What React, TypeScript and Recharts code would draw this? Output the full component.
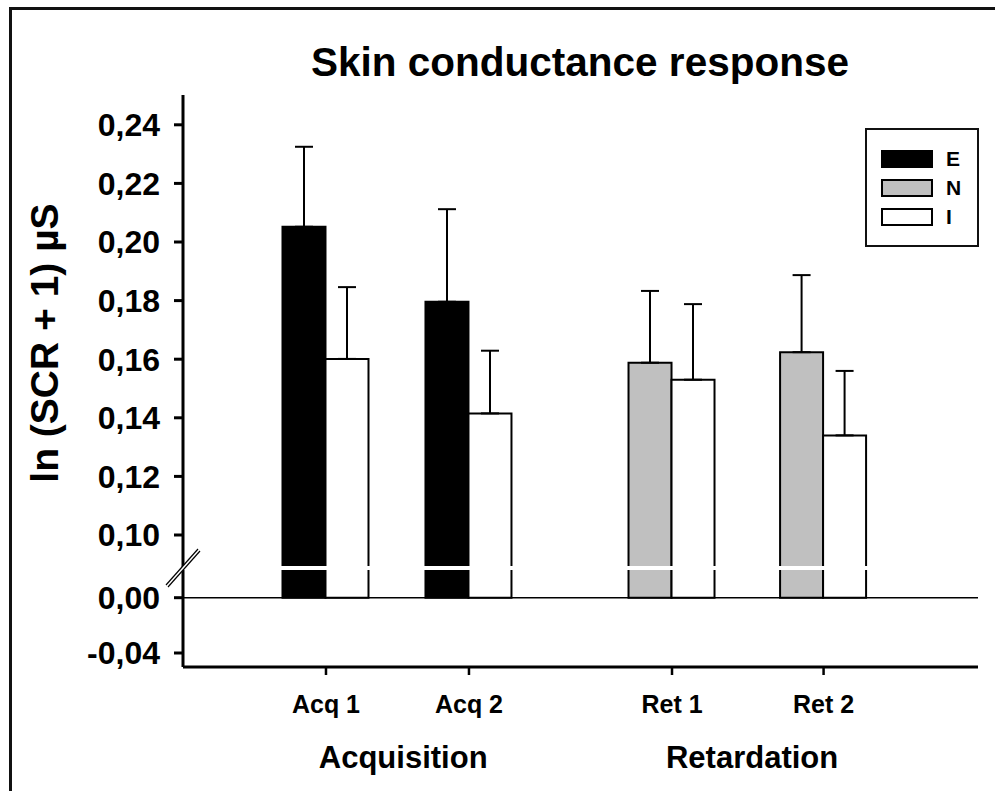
import { ComposedChart, Bar, XAxis, YAxis, ErrorBar, Cell, ReferenceLine, ReferenceDot } from 'recharts';

// categories and groups
const categories = ['Acq 1', 'Acq 2', 'Ret 1', 'Ret 2'];
const groupNames = ['Acquisition', 'Retardation'];

// first bar of each pair is E (acquisition) or N (retardation), second bar is I
const firstCondition = ['E', 'E', 'N', 'N'];
const firstMeans = [0.2052, 0.1796, 0.1588, 0.1624];
const firstErrTop = [0.2325, 0.2112, 0.1833, 0.1887];
const iMeans = [0.1601, 0.1415, 0.153, 0.134];
const iErrTop = [0.1846, 0.1629, 0.1788, 0.156];

const yTicks = [-0.04, 0, 0.1, 0.12, 0.14, 0.16, 0.18, 0.2, 0.22, 0.24];
const legendItems = ['E', 'N', 'I'];

const fills: Record<string, string> = { E: '#000000', N: '#c0c0c0', I: '#ffffff' };
const FONT = "'Liberation Sans', Arial, sans-serif";

// layout of the category slots on a numeric x axis (uneven spacing between groups)
const slotX = [1, 2, 3.42, 4.48];
const groupX = [1.54, 3.98];
const X_DOMAIN: [number, number] = [0, 5.56];

// broken y axis: 0 .. 0.10 is compressed into a gap
const GAP = 62.7;
const STEP = 58.6 / 0.02;
const LOW = 55.3 / 0.04;
const BREAK_AT = 29.7;
const tr = (v: number) => (v >= 0.1 ? GAP + (v - 0.1) * STEP : v * LOW);
const inv = (t: number) => (t >= GAP - 0.001 ? 0.1 + (t - GAP) / STEP : t / LOW);
const fmt = (v: number) => (Math.abs(v) < 1e-6 ? '0,00' : v.toFixed(2).replace('.', ','));

const data = categories.map((name, i) => ({
  name,
  x: slotX[i],
  first: tr(firstMeans[i]),
  firstErr: [0, tr(firstErrTop[i]) - tr(firstMeans[i])],
  second: tr(iMeans[i]),
  secondErr: [0, tr(iErrTop[i]) - tr(iMeans[i])],
}));

const BreakMark = (props: any) => {
  const { cx, cy } = props;
  return (
    <g>
      <polygon
        points={`${cx - 17},${cy + 17} ${cx + 15},${cy - 19} ${cx + 17},${cy - 17} ${cx - 15},${cy + 19}`}
        fill="#fff"
      />
      <line x1={cx - 17} y1={cy + 17} x2={cx + 15} y2={cy - 19} stroke="#000" strokeWidth={1.2} />
      <line x1={cx - 15} y1={cy + 19} x2={cx + 17} y2={cy - 17} stroke="#000" strokeWidth={1.2} />
    </g>
  );
};

const Legend = () => (
  <div
    style={{
      position: 'absolute',
      left: 865,
      top: 128,
      width: 110,
      height: 115,
      border: '2px solid #111',
      background: '#fff',
    }}
  >
    {legendItems.map((k, i) => (
      <div key={k} style={{ position: 'absolute', left: 14, top: 20 + i * 29, height: 17, display: 'flex', alignItems: 'center' }}>
        <div style={{ width: 48, height: 14, border: '2px solid #000', background: fills[k] }} />
        <span style={{ marginLeft: 13, fontFamily: FONT, fontWeight: 'bold', fontSize: 21, color: '#000' }}>{k}</span>
      </div>
    ))}
  </div>
);

export default function App() {
  const tickFont = { fill: '#000', fontFamily: FONT, fontWeight: 'bold' };
  return (
    <div style={{ position: 'fixed', left: 0, top: 0, width: 995, height: 791, background: '#fff', overflow: 'hidden' }}>
      <div
        style={{
          position: 'absolute',
          left: 9,
          top: 7,
          width: 1000,
          height: 800,
          borderTop: '3px solid #111',
          borderLeft: '3px solid #111',
        }}
      />
      <div
        style={{
          position: 'absolute',
          left: 580,
          top: 42,
          transform: 'translateX(-50%)',
          whiteSpace: 'nowrap',
          fontFamily: FONT,
          fontWeight: 'bold',
          fontSize: 40.5,
          lineHeight: '40.5px',
          color: '#000',
        }}
      >
        Skin conductance response
      </div>
      <div
        style={{
          position: 'absolute',
          left: 45,
          top: 343,
          transform: 'translate(-50%, -50%) rotate(-90deg)',
          whiteSpace: 'nowrap',
          fontFamily: FONT,
          fontWeight: 'bold',
          fontSize: 39,
          color: '#000',
        }}
      >
        ln (SCR + 1) µS
      </div>
      <div style={{ position: 'absolute', left: 0, top: 0 }}>
        <ComposedChart
          width={995}
          height={791}
          data={data}
          margin={{ top: 95, right: 17, bottom: 4, left: 83 }}
          barGap={0}
        >
          <XAxis
            xAxisId="cat"
            dataKey="x"
            type="number"
            domain={X_DOMAIN}
            allowDataOverflow
            ticks={slotX}
            interval={0}
            height={60}
            tickFormatter={(v: number) => categories[slotX.indexOf(v)] ?? ''}
            axisLine={{ stroke: '#000', strokeWidth: 3 }}
            tickLine={{ stroke: '#000', strokeWidth: 2.5 }}
            tickSize={8}
            tickMargin={20}
            tick={{ ...tickFont, fontSize: 25 }}
          />
          <XAxis
            xAxisId="grp"
            dataKey="x"
            type="number"
            domain={X_DOMAIN}
            allowDataOverflow
            ticks={groupX}
            interval={0}
            height={60}
            tickFormatter={(v: number) => groupNames[groupX.indexOf(v)] ?? ''}
            axisLine={false}
            tickLine={false}
            tickSize={0}
            tickMargin={19}
            tick={{ ...tickFont, fontSize: 31 }}
          />
          <YAxis
            type="number"
            domain={[-69.3, 502.7]}
            allowDataOverflow
            ticks={yTicks.map(tr)}
            interval={0}
            width={100}
            tickFormatter={(t: number) => fmt(inv(t))}
            axisLine={{ stroke: '#000', strokeWidth: 3 }}
            tickLine={{ stroke: '#000', strokeWidth: 3 }}
            tickSize={9}
            tickMargin={14}
            tick={{ ...tickFont, fontSize: 32 }}
          />
          <Bar xAxisId="cat" dataKey="first" barSize={43} stroke="#000" strokeWidth={2} isAnimationActive={false}>
            {data.map((d, i) => (
              <Cell key={d.name} fill={fills[firstCondition[i]]} />
            ))}
            <ErrorBar dataKey="firstErr" direction="y" width={9} stroke="#000" strokeWidth={2} isAnimationActive={false} />
          </Bar>
          <Bar xAxisId="cat" dataKey="second" barSize={43} fill={fills.I} stroke="#000" strokeWidth={2} isAnimationActive={false}>
            <ErrorBar dataKey="secondErr" direction="y" width={9} stroke="#000" strokeWidth={2} isAnimationActive={false} />
          </Bar>
          <ReferenceLine xAxisId="cat" y={0} stroke="#000" strokeWidth={1.5} zIndex={2300} />
          <ReferenceLine xAxisId="cat" y={BREAK_AT} stroke="#fff" strokeWidth={4} zIndex={2400} />
          <ReferenceDot xAxisId="cat" x={0} y={BREAK_AT} r={0} ifOverflow="visible" shape={BreakMark} zIndex={2500} />
        </ComposedChart>
      </div>
      <Legend />
    </div>
  );
}
